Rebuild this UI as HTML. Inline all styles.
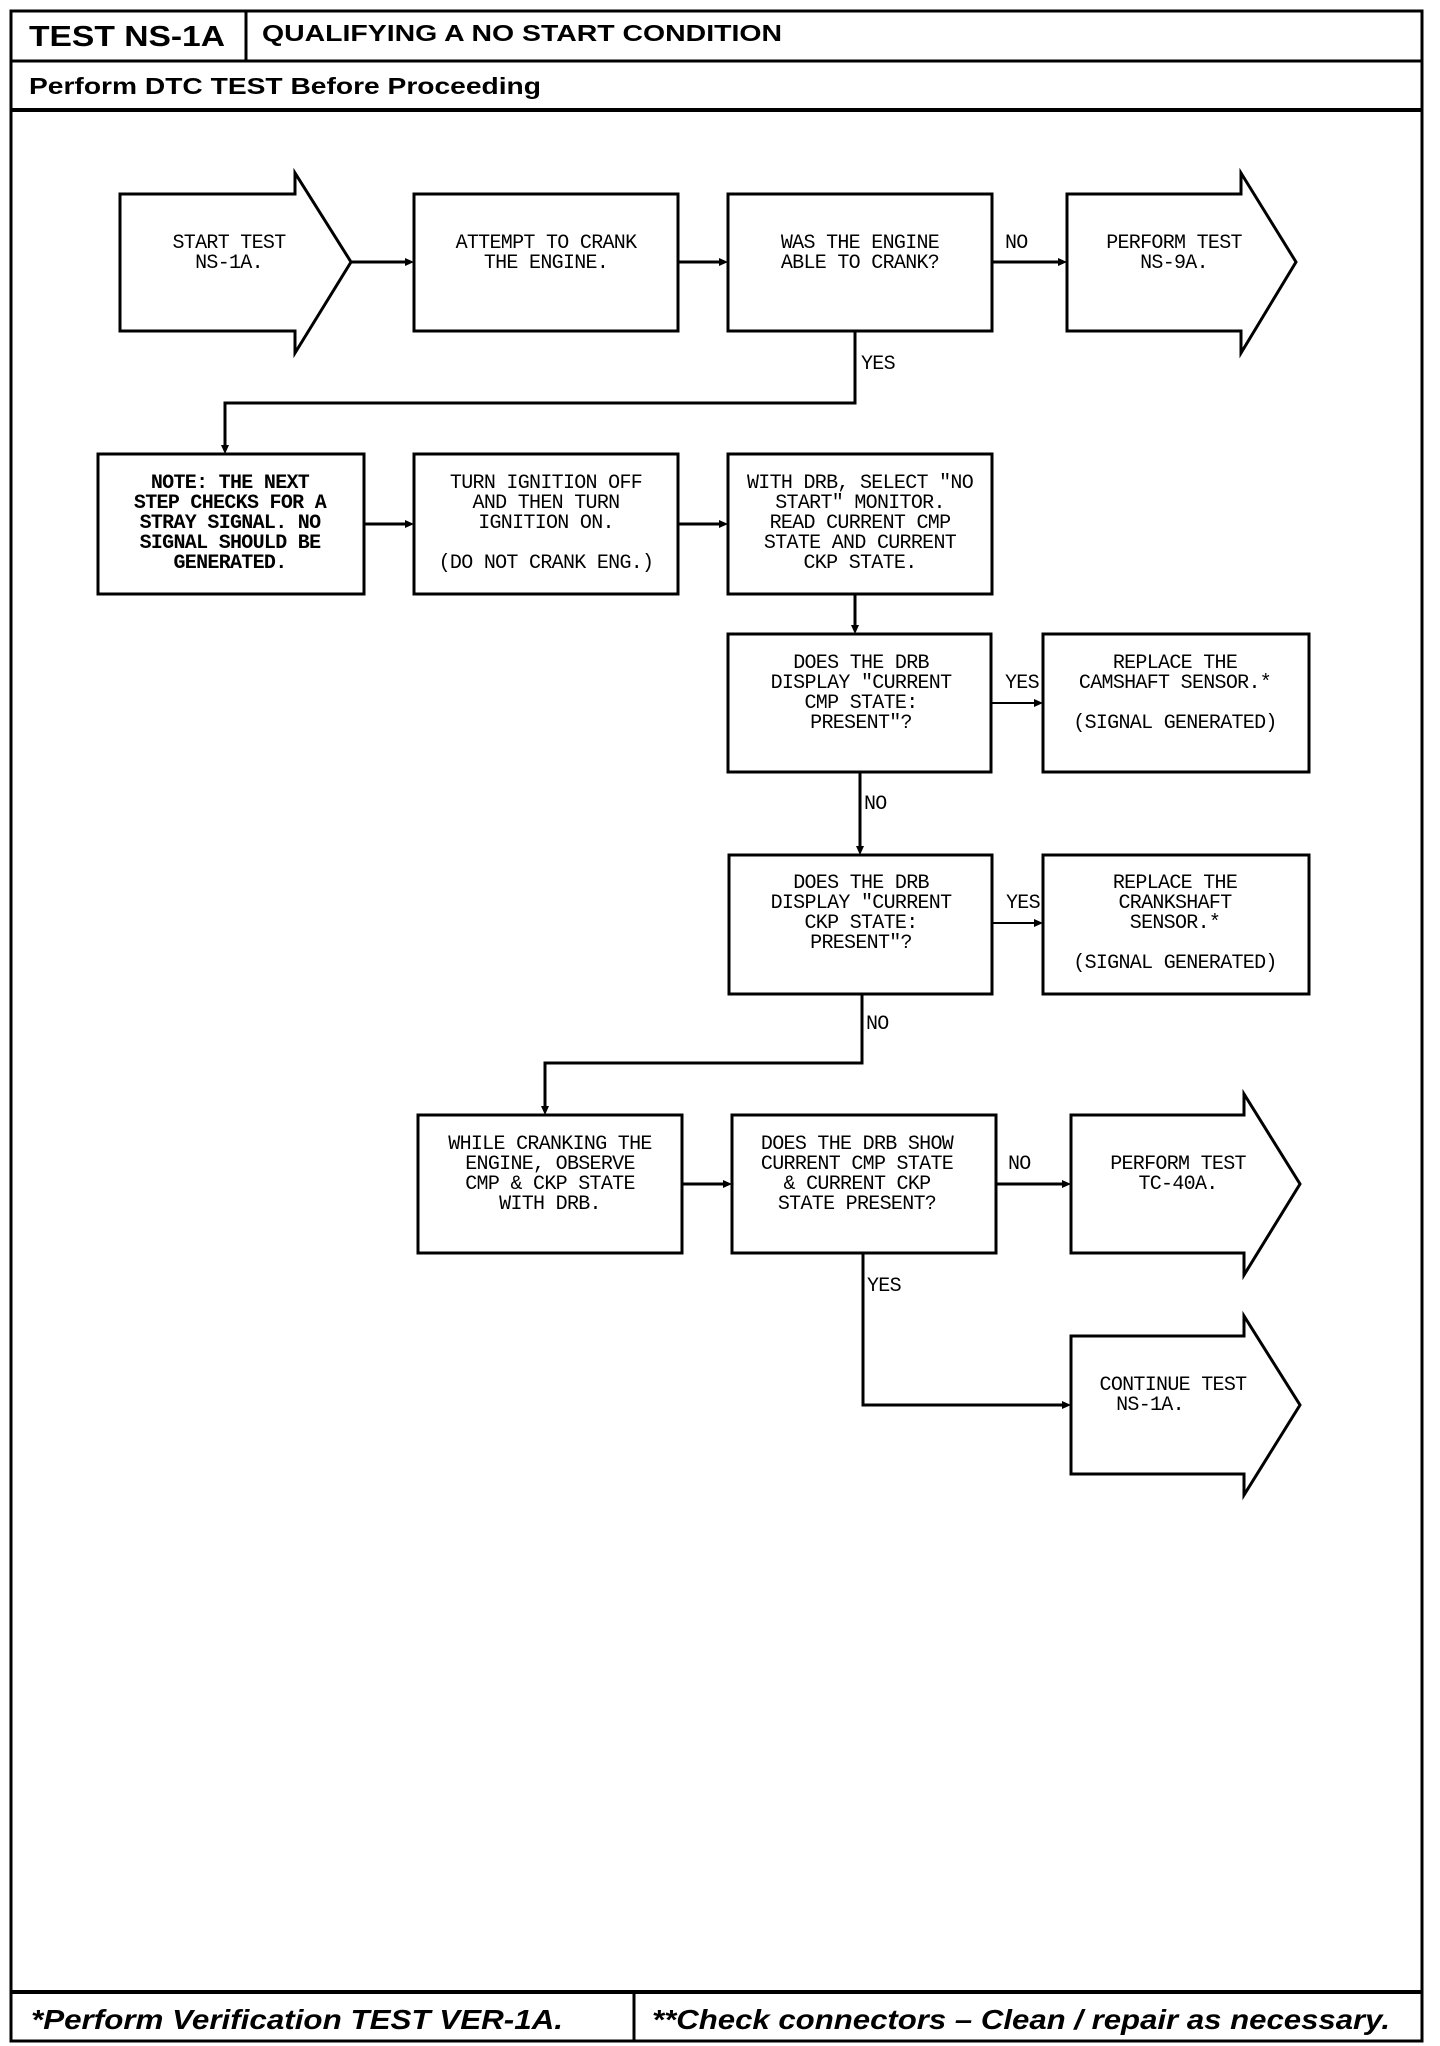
<!DOCTYPE html>
<html><head><meta charset="utf-8"><style>
html,body{margin:0;padding:0;background:#fff;}
svg{display:block;}
.t{font-family:"Liberation Mono",monospace;font-size:20px;letter-spacing:-0.7px;text-anchor:middle;fill:#000;}
.l{font-family:"Liberation Mono",monospace;font-size:20px;letter-spacing:-0.7px;fill:#000;}
.h{font-family:"Liberation Sans",sans-serif;font-weight:bold;fill:#000;}
</style></head><body>
<svg width="1440" height="2046" viewBox="0 0 1440 2046" xmlns="http://www.w3.org/2000/svg">
<g fill="none" stroke="#000" stroke-width="3">
<rect x="11" y="11" width="1411" height="2030"/>
<line x1="11" y1="61" x2="1422" y2="61"/>
<line x1="246" y1="11" x2="246" y2="61"/>
<line x1="11" y1="110" x2="1422" y2="110" stroke-width="4"/>
<line x1="11" y1="1992" x2="1422" y2="1992" stroke-width="4"/>
<line x1="634" y1="1992" x2="634" y2="2041"/>
<!-- arrows shapes -->
<polygon points="120,194 295,194 295,173 351,262 295,353 295,331 120,331"/>
<polygon points="1067,194 1241,194 1241,173 1296,262 1241,353 1241,331 1067,331"/>
<polygon points="1071,1115 1244,1115 1244,1094 1300,1184 1244,1275 1244,1253 1071,1253"/>
<polygon points="1071,1336 1244,1336 1244,1316 1300,1405 1244,1495 1244,1474 1071,1474"/>
<!-- boxes -->
<rect x="414" y="194" width="264" height="137"/>
<rect x="728" y="194" width="264" height="137"/>
<rect x="98" y="454" width="266" height="140"/>
<rect x="414" y="454" width="264" height="140"/>
<rect x="728" y="454" width="264" height="140"/>
<rect x="728" y="634" width="263" height="138"/>
<rect x="1043" y="634" width="266" height="138"/>
<rect x="729" y="855" width="263" height="139"/>
<rect x="1043" y="855" width="266" height="139"/>
<rect x="418" y="1115" width="264" height="138"/>
<rect x="732" y="1115" width="264" height="138"/>
<!-- connectors -->
<line x1="351" y1="262" x2="408" y2="262"/>
<line x1="678" y1="262" x2="722" y2="262"/>
<line x1="992" y1="262" x2="1061" y2="262"/>
<polyline points="855,331 855,403 225,403 225,448"/>
<line x1="364" y1="524" x2="408" y2="524"/>
<line x1="678" y1="524" x2="722" y2="524"/>
<line x1="855" y1="594" x2="855" y2="628"/>
<line x1="991" y1="703" x2="1037" y2="703" stroke-width="2"/>
<line x1="860" y1="772" x2="860" y2="849"/>
<line x1="992" y1="923" x2="1037" y2="923" stroke-width="2"/>
<polyline points="862,994 862,1063 545,1063 545,1109"/>
<line x1="682" y1="1184" x2="726" y2="1184"/>
<line x1="996" y1="1184" x2="1065" y2="1184"/>
<polyline points="863,1253 863,1405 1065,1405"/>
</g>
<g fill="#000">
<polygon points="414,262 405,258 405,266"/>
<polygon points="728,262 719,258 719,266"/>
<polygon points="1067,262 1058,258 1058,266"/>
<polygon points="225,454 221,445 229,445"/>
<polygon points="414,524 405,520 405,528"/>
<polygon points="728,524 719,520 719,528"/>
<polygon points="855,634 851,625 859,625"/>
<polygon points="1043,703 1034,699 1034,707"/>
<polygon points="860,855 856,846 864,846"/>
<polygon points="1043,923 1034,919 1034,927"/>
<polygon points="545,1115 541,1106 549,1106"/>
<polygon points="732,1184 723,1180 723,1188"/>
<polygon points="1071,1184 1062,1180 1062,1188"/>
<polygon points="1071,1405 1062,1401 1062,1409"/>
</g>
<!-- headings -->
<text class="h" x="29" y="46" font-size="29" textLength="196" lengthAdjust="spacingAndGlyphs">TEST NS-1A</text>
<text class="h" x="262" y="41" font-size="23" textLength="520" lengthAdjust="spacingAndGlyphs">QUALIFYING A NO START CONDITION</text>
<text class="h" x="29" y="94" font-size="23" textLength="512" lengthAdjust="spacingAndGlyphs">Perform DTC TEST Before Proceeding</text>
<text class="h" x="31" y="2029" font-size="28" font-style="italic" textLength="532" lengthAdjust="spacingAndGlyphs">*Perform Verification TEST VER-1A.</text>
<text class="h" x="652" y="2029" font-size="28" font-style="italic" textLength="738" lengthAdjust="spacingAndGlyphs">**Check connectors – Clean / repair as necessary.</text>
<!-- box text -->
<text class="t" x="229" y="248">START TEST<tspan x="229" dy="20">NS-1A.</tspan></text>
<text class="t" x="546" y="248">ATTEMPT TO CRANK<tspan x="546" dy="20">THE ENGINE.</tspan></text>
<text class="t" x="860" y="248">WAS THE ENGINE<tspan x="860" dy="20">ABLE TO CRANK?</tspan></text>
<text class="t" x="1174" y="248">PERFORM TEST<tspan x="1174" dy="20">NS-9A.</tspan></text>
<text class="l" x="1005" y="248">NO</text>
<text class="l" x="861" y="369">YES</text>
<text class="t" x="230" y="488" font-weight="bold">NOTE: THE NEXT<tspan x="230" dy="20">STEP CHECKS FOR A</tspan><tspan x="230" dy="20">STRAY SIGNAL. NO</tspan><tspan x="230" dy="20">SIGNAL SHOULD BE</tspan><tspan x="230" dy="20">GENERATED.</tspan></text>
<text class="t" x="546" y="488">TURN IGNITION OFF<tspan x="546" dy="20">AND THEN TURN</tspan><tspan x="546" dy="20">IGNITION ON.</tspan><tspan x="546" dy="40">(DO NOT CRANK ENG.)</tspan></text>
<text class="t" x="860" y="488">WITH DRB, SELECT "NO<tspan x="860" dy="20">START" MONITOR.</tspan><tspan x="860" dy="20">READ CURRENT CMP</tspan><tspan x="860" dy="20">STATE AND CURRENT</tspan><tspan x="860" dy="20">CKP STATE.</tspan></text>
<text class="t" x="861" y="668">DOES THE DRB<tspan x="861" dy="20">DISPLAY "CURRENT</tspan><tspan x="861" dy="20">CMP STATE:</tspan><tspan x="861" dy="20">PRESENT"?</tspan></text>
<text class="l" x="1005" y="688">YES</text>
<text class="t" x="1175" y="668">REPLACE THE<tspan x="1175" dy="20">CAMSHAFT SENSOR.*</tspan><tspan x="1175" dy="40">(SIGNAL GENERATED)</tspan></text>
<text class="l" x="864" y="809">NO</text>
<text class="t" x="861" y="888">DOES THE DRB<tspan x="861" dy="20">DISPLAY "CURRENT</tspan><tspan x="861" dy="20">CKP STATE:</tspan><tspan x="861" dy="20">PRESENT"?</tspan></text>
<text class="l" x="1006" y="908">YES</text>
<text class="t" x="1175" y="888">REPLACE THE<tspan x="1175" dy="20">CRANKSHAFT</tspan><tspan x="1175" dy="20">SENSOR.*</tspan><tspan x="1175" dy="40">(SIGNAL GENERATED)</tspan></text>
<text class="l" x="866" y="1029">NO</text>
<text class="t" x="550" y="1149">WHILE CRANKING THE<tspan x="550" dy="20">ENGINE, OBSERVE</tspan><tspan x="550" dy="20">CMP &amp; CKP STATE</tspan><tspan x="550" dy="20">WITH DRB.</tspan></text>
<text class="t" x="857" y="1149">DOES THE DRB SHOW<tspan x="857" dy="20">CURRENT CMP STATE</tspan><tspan x="857" dy="20">&amp; CURRENT CKP</tspan><tspan x="857" dy="20">STATE PRESENT?</tspan></text>
<text class="l" x="1008" y="1169">NO</text>
<text class="t" x="1178" y="1169">PERFORM TEST<tspan x="1178" dy="20">TC-40A.</tspan></text>
<text class="l" x="867" y="1291">YES</text>
<text class="t" x="1173" y="1390">CONTINUE TEST<tspan x="1150" dy="20">NS-1A.</tspan></text>
</svg>
</body></html>
